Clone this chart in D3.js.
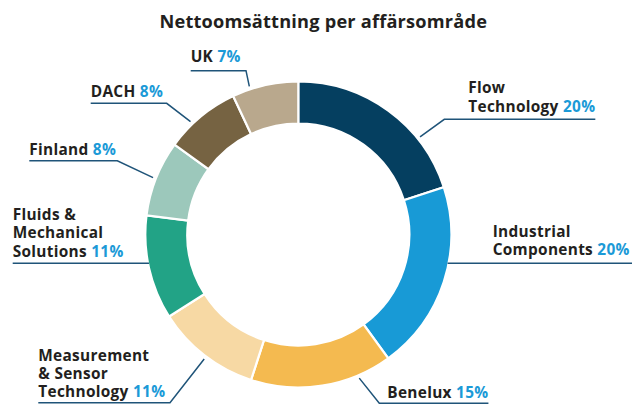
<!DOCTYPE html>
<html>
<head>
<meta charset="utf-8">
<script src="https://cdn.jsdelivr.net/npm/d3@7"></script>
<style>
  html, body { margin: 0; padding: 0; background: #ffffff; }
  svg { display: block; }
  text { font-family: "Open Sans", "Noto Sans", sans-serif; font-weight: 700; }
</style>
</head>
<body>
<svg id="chart" width="632" height="405"></svg>
<script>
// ---- data ----
const title = "Nettoomsättning per affärsområde";
const categories = ["Flow Technology", "Industrial Components", "Benelux",
  "Measurement & Sensor Technology", "Fluids & Mechanical Solutions",
  "Finland", "DACH", "UK"];
const labelLines = [["Flow", "Technology"], ["Industrial", "Components"], ["Benelux"],
  ["Measurement", "& Sensor", "Technology"], ["Fluids &", "Mechanical", "Solutions"],
  ["Finland"], ["DACH"], ["UK"]];
const shares = [20, 20, 15, 11, 11, 8, 8, 7];
const percentLabels = ["20%", "20%", "15%", "11%", "11%", "8%", "8%", "7%"];

// ---- styling / layout ----
const colors = ["#053f60", "#189ad6", "#f4ba50", "#f7d9a4", "#22a386", "#9cc8bb", "#766342", "#b9a88d"];
const W = 632, H = 405;
const cx = 298.3, cy = 234.5, rOuter = 153, rInner = 111, rLead = 156;
const fontSize = 15.4, lineGap = 18.2, letterSp = 0.3;
// label layout: text x, first baseline, underline y, knee x, leader angle (deg from 12 o'clock), side
const layout = [
  { x: 468.3, y: 93.3,  ly: 119.3, knee: 444.3, ang: 51.3,  side: "right" },
  { x: 492.7, y: 236.9, ly: 263.3, knee: null,  ang: null,  side: "right", flat: true, lineEnd: 632 },
  { x: 387.3, y: 398.3, ly: 403.3, knee: 379.3, ang: 157,   side: "right" },
  { x: 38.3,  y: 360.5, ly: 402.7, knee: 170,   ang: 217.1, side: "left" },
  { x: 12.7,  y: 220.2, ly: 263.3, knee: null,  ang: null,  side: "left", flat: true },
  { x: 29.3,  y: 155,   ly: 160.7, knee: 117.3, ang: 291.4, side: "left" },
  { x: 90.7,  y: 97.3,  ly: 103.3, knee: 166.7, ang: 316.3, side: "left" },
  { x: 190.7, y: 62,    ly: 70.7,  knee: 246,   ang: 341.7, side: "left" }
];
const textColor = "#231f20", pctColor = "#1b9ad7", leaderColor = "#1f5479";

const svg = d3.select("#chart");

svg.append("text")
  .attr("x", 323.3).attr("y", 28.3)
  .attr("text-anchor", "middle")
  .attr("font-size", 18.2)
  .attr("letter-spacing", 0.2)
  .attr("fill", textColor)
  .text(title);

const pie = d3.pie().sort(null).value(d => d)
  .startAngle(0).endAngle(2 * Math.PI);
const arcs = pie(shares);
const arc = d3.arc().innerRadius(rInner).outerRadius(rOuter);

const g = svg.append("g").attr("transform", `translate(${cx},${cy})`);
g.selectAll("path.slice").data(arcs).join("path")
  .attr("class", "slice")
  .attr("d", arc)
  .attr("fill", (d, i) => colors[i])
  .attr("stroke", "#ffffff")
  .attr("stroke-width", 2.2)
  .attr("stroke-linejoin", "miter");

// labels
const ptAt = (deg, r) => {
  const a = deg * Math.PI / 180;
  return [cx + r * Math.sin(a), cy - r * Math.cos(a)];
};

arcs.forEach((a, i) => {
  const L = layout[i];
  const lines = labelLines[i];
  const t = svg.append("text")
    .attr("font-size", fontSize)
    .attr("letter-spacing", letterSp)
    .attr("fill", textColor);
  lines.forEach((ln, j) => {
    t.append("tspan")
      .attr("x", L.x)
      .attr("y", L.y + j * lineGap)
      .text(ln);
    if (j === lines.length - 1) {
      t.append("tspan").attr("fill", pctColor).text("\u00a0" + percentLabels[i]);
    }
  });
  const bb = t.node().getBBox();
  const textEnd = bb.x + bb.width;
  let pts;
  if (L.flat) {
    const dy = L.ly - cy;
    const dx = Math.sqrt(rOuter * rOuter - dy * dy);
    if (L.side === "right") {
      pts = [[cx + dx - 1, L.ly], [L.lineEnd, L.ly]];
    } else {
      pts = [[L.x, L.ly], [cx - dx + 1, L.ly]];
    }
  } else {
    const ring = ptAt(L.ang, rLead);
    if (L.side === "right") {
      pts = [ring, [L.knee, L.ly], [textEnd, L.ly]];
    } else {
      pts = [[L.x, L.ly], [L.knee, L.ly], ring];
    }
  }
  svg.append("path")
    .attr("d", d3.line()(pts))
    .attr("fill", "none")
    .attr("stroke", leaderColor)
    .attr("stroke-width", 1.5);
});
</script>
</body>
</html>
